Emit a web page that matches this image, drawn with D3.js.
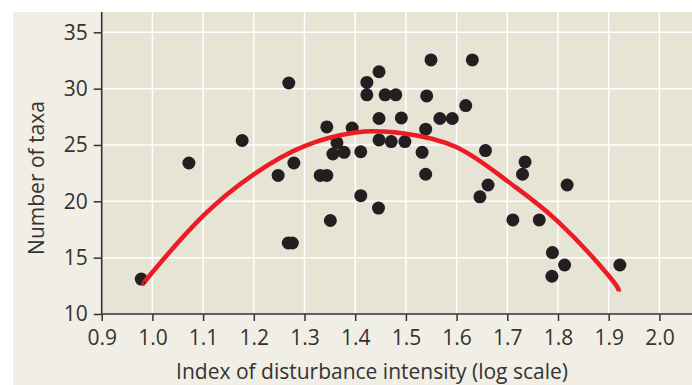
<!DOCTYPE html>
<html>
<head>
<meta charset="utf-8">
<script src="https://cdn.jsdelivr.net/npm/d3@7"></script>
<style>
  html, body { margin: 0; padding: 0; background: #ffffff; }
  svg { display: block; }
  text { font-family: "Open Sans", "Noto Sans", sans-serif; fill: #333333; }
</style>
</head>
<body>
<svg id="chart" width="692" height="385"></svg>
<script>
// ---- data ----
const disturbance = [0.978, 1.072, 1.177, 1.269, 1.248, 1.279, 1.268, 1.276, 1.331, 1.344,
  1.344, 1.364, 1.356, 1.378, 1.394, 1.411, 1.411, 1.351, 1.423, 1.423,
  1.447, 1.459, 1.480, 1.447, 1.491, 1.447, 1.471, 1.498, 1.446, 1.5495,
  1.631, 1.541, 1.567, 1.5915, 1.618, 1.539, 1.532, 1.539, 1.657, 1.662,
  1.646, 1.735, 1.730, 1.711, 1.763, 1.818, 1.789, 1.813, 1.788, 1.922];
const taxa = [13.1, 23.4, 25.4, 30.5, 22.3, 23.4, 16.3, 16.3, 22.3, 22.3,
  26.6, 25.2, 24.2, 24.35, 26.5, 24.4, 20.5, 18.3, 30.55, 29.45,
  31.5, 29.45, 29.45, 27.35, 27.4, 25.45, 25.3, 25.3, 19.4, 32.55,
  32.55, 29.35, 27.35, 27.35, 28.5, 26.4, 24.35, 22.4, 24.5, 21.45,
  20.4, 23.5, 22.4, 18.35, 18.35, 21.45, 15.45, 14.35, 13.35, 14.35];
// fitted curve
const fitX = [0.984, 1.0, 1.1, 1.2, 1.3, 1.4, 1.45, 1.5, 1.6, 1.7, 1.8, 1.9, 1.92];
const fitY = [12.7, 13.7, 18.7, 22.4, 24.9, 26.1, 26.2, 26.0, 24.8, 21.8, 18.2, 13.4, 12.0];
const xTicks = [0.9, 1.0, 1.1, 1.2, 1.3, 1.4, 1.5, 1.6, 1.7, 1.8, 1.9, 2.0];
const yTicks = [10, 15, 20, 25, 30, 35];
const xTitle = "Index of disturbance intensity (log scale)";
const yTitle = "Number of taxa";

// ---- layout ----
const svg = d3.select("#chart");
const W = 692, H = 385;
const plotLeft = 101.7, plotTop = 12, plotBottom = 314, plotRight = 692;
const fontSize = 21;

const x = d3.scaleLinear().domain([0.9, 2.0]).range([plotLeft, 659.4]);
const y = d3.scaleLinear().domain([10, 35]).range([plotBottom, 32.3]);

// outer panel background
svg.append("rect").attr("x", 13).attr("y", 12).attr("width", W - 13).attr("height", H - 12)
  .attr("fill", "#f1eee6");
// plot area
svg.append("rect").attr("x", plotLeft).attr("y", plotTop)
  .attr("width", plotRight - plotLeft).attr("height", plotBottom - plotTop)
  .attr("fill", "#e6e4d4");

// gridlines
const grid = svg.append("g").attr("stroke", "#ffffff").attr("stroke-width", 1.5);
xTicks.filter(d => d > 0.9).forEach(d => {
  grid.append("line").attr("x1", x(d)).attr("x2", x(d)).attr("y1", plotTop).attr("y2", plotBottom);
});
yTicks.filter(d => d > 10).forEach(d => {
  grid.append("line").attr("x1", plotLeft).attr("x2", plotRight).attr("y1", y(d)).attr("y2", y(d));
});

// axes
const xAxis = d3.axisBottom(x).tickValues(xTicks).tickFormat(d3.format(".1f")).tickSize(7).tickPadding(9);
const yAxis = d3.axisLeft(y).tickValues(yTicks).tickFormat(d3.format("d")).tickSize(8).tickPadding(6);

const gx = svg.append("g").attr("transform", `translate(0,${plotBottom})`).call(xAxis);
gx.select(".domain").remove();
gx.selectAll(".tick line").attr("stroke", "#333").attr("stroke-width", 1.5);
gx.selectAll(".tick text").attr("font-size", fontSize).attr("fill", "#333")
  .attr("font-family", "'Open Sans', sans-serif");

const gy = svg.append("g").attr("transform", `translate(${plotLeft},0)`).call(yAxis);
gy.select(".domain").remove();
gy.selectAll(".tick line").attr("stroke", "#333").attr("stroke-width", 1.5);
gy.selectAll(".tick text").attr("font-size", fontSize).attr("fill", "#333")
  .attr("font-family", "'Open Sans', sans-serif");

// axis lines
svg.append("line").attr("x1", plotLeft).attr("x2", plotRight).attr("y1", plotBottom).attr("y2", plotBottom)
  .attr("stroke", "#333").attr("stroke-width", 1.6);
svg.append("line").attr("x1", plotLeft).attr("x2", plotLeft).attr("y1", plotTop).attr("y2", plotBottom)
  .attr("stroke", "#333").attr("stroke-width", 1.6);

// points
svg.append("g").selectAll("circle")
  .data(d3.range(disturbance.length))
  .join("circle")
  .attr("cx", i => x(disturbance[i]))
  .attr("cy", i => y(taxa[i]))
  .attr("r", 6.5)
  .attr("fill", "#231f20");

// fitted curve
const line = d3.line().x(i => x(fitX[i])).y(i => y(fitY[i])).curve(d3.curveNatural);
svg.append("path")
  .attr("d", line(d3.range(fitX.length)))
  .attr("fill", "none")
  .attr("stroke", "#ec1c24")
  .attr("stroke-width", 4.5);

// titles
svg.append("text").attr("x", 372).attr("y", 379).attr("text-anchor", "middle")
  .attr("font-size", fontSize).text(xTitle);
svg.append("text").attr("transform", `translate(44,178) rotate(-90)`).attr("text-anchor", "middle")
  .attr("font-size", fontSize).text(yTitle);
</script>
</body>
</html>
